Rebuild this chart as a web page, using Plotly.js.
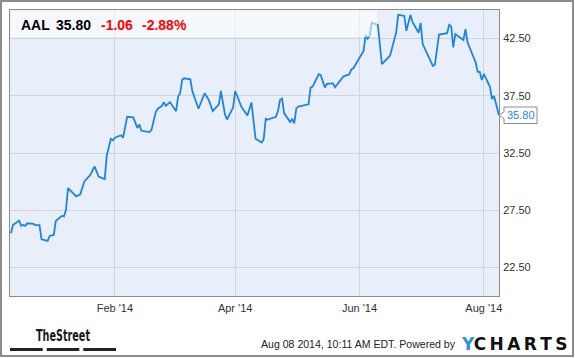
<!DOCTYPE html>
<html>
<head>
<meta charset="utf-8">
<script src="https://cdn.plot.ly/plotly-3.0.1.min.js"></script>
<style>
  html, body { margin: 0; padding: 0; background: #fff; }
  #wrap { position: relative; width: 575px; height: 358px; overflow: hidden; }
  #chart { position: absolute; left: 0; top: 0; width: 575px; height: 358px; }
  #frame { position: absolute; left: 0; top: 0; width: 574px; height: 357px; box-sizing: border-box;
           border: 2px solid #8c8c8c; pointer-events: none; }
</style>
</head>
<body>
<div id="wrap"><div id="chart"></div><div id="frame"></div></div>
<script>
// ---- data ----
const dates = [
  '2013-12-12','2013-12-13','2013-12-16','2013-12-17','2013-12-18','2013-12-19','2013-12-20','2013-12-22',
  '2013-12-23','2013-12-24','2013-12-26','2013-12-27','2013-12-30','2013-12-31','2014-01-02','2014-01-03',
  '2014-01-06','2014-01-07','2014-01-08','2014-01-09','2014-01-13','2014-01-15','2014-01-17','2014-01-20',
  '2014-01-22','2014-01-24','2014-01-27','2014-01-28','2014-01-30','2014-01-31','2014-02-01','2014-02-04',
  '2014-02-05','2014-02-07','2014-02-10','2014-02-12','2014-02-13','2014-02-14','2014-02-18','2014-02-19',
  '2014-02-21','2014-02-22','2014-02-24','2014-02-25','2014-02-26','2014-02-28','2014-03-03','2014-03-04',
  '2014-03-05','2014-03-06','2014-03-07','2014-03-10','2014-03-11','2014-03-14','2014-03-17','2014-03-19',
  '2014-03-21','2014-03-24','2014-03-25','2014-03-27','2014-03-28','2014-03-31','2014-04-01','2014-04-02',
  '2014-04-04','2014-04-07','2014-04-09','2014-04-11','2014-04-14','2014-04-15','2014-04-16','2014-04-17',
  '2014-04-21','2014-04-22','2014-04-23','2014-04-24','2014-04-25','2014-04-28','2014-04-29','2014-04-30',
  '2014-05-01','2014-05-02','2014-05-06','2014-05-07','2014-05-08','2014-05-09','2014-05-12','2014-05-13',
  '2014-05-15','2014-05-16','2014-05-19','2014-05-20','2014-05-23','2014-05-24','2014-05-27','2014-05-28',
  '2014-05-29','2014-06-01','2014-06-03','2014-06-04','2014-06-05','2014-06-06','2014-06-07','2014-06-10',
  '2014-06-12','2014-06-16','2014-06-19','2014-06-20','2014-06-23','2014-06-24','2014-06-26','2014-06-27',
  '2014-06-30','2014-07-01','2014-07-02','2014-07-07','2014-07-08','2014-07-10','2014-07-14','2014-07-15',
  '2014-07-16','2014-07-17','2014-07-18','2014-07-22','2014-07-23','2014-07-24','2014-07-28','2014-07-29',
  '2014-07-30','2014-07-31','2014-08-01','2014-08-04','2014-08-05','2014-08-06','2014-08-07','2014-08-08 10:11'
];
const prices = [
  25.48,26.21,26.59,26.13,26.21,26.13,26.36,26.28,
  26.30,26.19,26.19,24.96,24.81,25.25,25.34,26.56,
  27.00,26.96,27.53,29.44,28.70,28.89,30.02,30.60,
  31.33,30.43,30.21,32.27,33.72,33.61,33.83,34.05,
  33.83,35.67,35.61,34.69,34.99,34.44,34.33,34.55,
  36.05,36.37,36.60,36.95,36.62,36.95,36.16,37.41,
  37.72,38.90,39.03,38.94,37.89,36.37,37.72,37.16,
  36.16,36.75,37.92,35.87,35.43,36.49,37.92,37.48,
  36.55,35.78,36.92,33.74,33.41,33.70,35.49,35.43,
  35.67,36.16,37.13,37.26,35.99,35.20,35.49,35.08,
  36.40,36.55,36.66,36.75,38.22,38.30,39.38,39.30,
  38.22,38.55,38.59,38.24,38.94,39.18,39.38,39.80,
  39.91,40.85,41.43,42.81,42.49,42.75,43.89,43.69,
  40.26,41.02,43.04,44.58,44.48,43.18,44.56,43.95,
  43.01,43.86,42.02,40.11,40.22,42.85,42.98,43.71,
  43.57,41.73,42.90,42.39,43.33,42.17,40.41,39.60,
  39.59,38.88,39.41,38.29,37.21,37.48,36.86,35.80
];
const yTicks = [22.5, 27.5, 32.5, 37.5, 42.5];
const xTicks = ['2014-02-01', '2014-04-01', '2014-06-01', '2014-08-01'];
const xTickText = ["Feb '14", "Apr '14", "Jun '14", "Aug '14"];
const ticker = 'AAL';
const lastPrice = '35.80';
const change = '-1.06';
const changePct = '-2.88%';
const stamp = 'Aug 08 2014, 10:11 AM EDT. Powered by';
const brand = 'TheStreet';

// ---- layout helpers ----
const W = 575, H = 358;
const M = {l: 10, r: 76, t: 10, b: 62};
const PW = W - M.l - M.r, PH = H - M.t - M.b;
const fx = px => (px - M.l) / PW;         // pixel x -> paper x
const fy = py => (M.t + PH - py) / PH;    // pixel y -> paper y

const LINE = '#1a86e3';
const FONT = 'Liberation Sans, Arial, Helvetica, sans-serif';
const lastVal = prices[prices.length - 1];

const trace = {
  x: dates, y: prices, type: 'scatter', mode: 'lines',
  line: {color: LINE, width: 1.8}, hoverinfo: 'skip'
};

// callout box with notch, anchored at last value
const nh = 0.3, bh = 0.72, bx0 = fx(504), bx1 = fx(537);
const calloutPath = `M 1.0 ${lastVal} L ${bx0} ${lastVal + nh} L ${bx0} ${lastVal + bh} L ${bx1} ${lastVal + bh} ` +
  `L ${bx1} ${lastVal - bh} L ${bx0} ${lastVal - bh} L ${bx0} ${lastVal - nh} Z`;

const shapes = [
  {type: 'rect', xref: 'paper', yref: 'paper', x0: fx(10.5), x1: fx(377), y0: fy(37), y1: fy(10.6),
   fillcolor: 'rgba(255,255,255,0.55)', line: {width: 0}, layer: 'above'},
  {type: 'path', xref: 'paper', yref: 'y', path: calloutPath, fillcolor: '#ffffff',
   line: {color: '#8c8c8c', width: 1}, layer: 'above'},
  {type: 'rect', xref: 'paper', yref: 'paper', x0: fx(10), x1: fx(42.7), y0: fy(351), y1: fy(348),
   fillcolor: '#222', line: {width: 0}},
  {type: 'rect', xref: 'paper', yref: 'paper', x0: fx(46.7), x1: fx(79.3), y0: fy(351), y1: fy(348),
   fillcolor: '#222', line: {width: 0}},
  {type: 'rect', xref: 'paper', yref: 'paper', x0: fx(83.3), x1: fx(116), y0: fy(351), y1: fy(348),
   fillcolor: '#222', line: {width: 0}}
];

const hdr = (txt, px, color) => ({
  xref: 'paper', yref: 'paper', x: fx(px), y: fy(24.5), xanchor: 'left', yanchor: 'middle',
  text: '<b>' + txt + '</b>', showarrow: false, font: {family: FONT, size: 14, color: color}
});

const annotations = [
  hdr(ticker, 19, '#000'),
  hdr(lastPrice, 54, '#000'),
  hdr(change, 99, '#ff0000'),
  hdr(changePct, 140, '#ff0000'),
  {xref: 'paper', yref: 'y', x: fx(520.5), y: lastVal, xanchor: 'center', yanchor: 'middle',
   text: lastVal.toFixed(2), showarrow: false, font: {family: FONT, size: 11, color: LINE}},
  {xref: 'paper', yref: 'paper', x: fx(34), y: fy(335.5), xanchor: 'left', yanchor: 'middle',
   text: '<b>' + brand + '</b>', showarrow: false,
   font: {family: 'Liberation Sans Narrow, DejaVu Sans Condensed, Arial Narrow, Liberation Sans, sans-serif', size: 15, color: '#1a1a1a'}},
  {xref: 'paper', yref: 'paper', x: fx(260), y: fy(343.5), xanchor: 'left', yanchor: 'middle', borderpad: 0,
   text: stamp, showarrow: false, font: {family: FONT, size: 10.5, color: '#222'}},
  {xref: 'paper', yref: 'paper', x: fx(568), y: fy(343.5), xanchor: 'right', yanchor: 'middle', borderpad: 0,
   text: '<b><span style="color:#2b8fe3">Y</span>C\u2009H\u2009A\u2009R\u2009T\u2009S</b>', showarrow: false,
   font: {family: 'DejaVu Sans, Liberation Sans, sans-serif', size: 17, color: '#111'}}
];

const layout = {
  width: W, height: H, margin: M, showlegend: false,
  paper_bgcolor: 'rgba(0,0,0,0)', plot_bgcolor: '#e8effa',
  font: {family: FONT, size: 11, color: '#333'},
  xaxis: {
    type: 'date', range: ['2013-12-11 12:40', '2014-08-08 10:40'],
    tickvals: xTicks, ticktext: xTickText, ticks: '', ticklabelstandoff: 2,
    showgrid: true, gridcolor: '#d5d5d5', gridwidth: 1,
    showline: true, linecolor: '#8c8c8c', linewidth: 1, mirror: true,
    zeroline: false, fixedrange: true, tickfont: {family: FONT, size: 11, color: '#333'}
  },
  yaxis: {
    side: 'right', range: [20, 45], tickvals: yTicks, tickformat: '.2f', ticks: '', ticklabelstandoff: 1,
    showgrid: true, gridcolor: '#d5d5d5', gridwidth: 1,
    showline: true, linecolor: '#8c8c8c', linewidth: 1, mirror: true,
    zeroline: false, fixedrange: true, tickfont: {family: FONT, size: 11, color: '#333'}
  },
  shapes: shapes,
  annotations: annotations
};

// condensed look for the footer brand (fonts here lack narrow faces);
// keep each text's left edge where the library placed it
function condense(gd) {
  const fits = [[brand, 54], [stamp, 194]];
  gd.querySelectorAll('.annotation-text').forEach(t => {
    fits.forEach(([txt, len]) => {
      if (t.textContent === txt) {
        const bb = t.getBBox();
        t.setAttribute('text-anchor', 'start');
        t.setAttribute('x', bb.x);
        t.setAttribute('textLength', len);
        t.setAttribute('lengthAdjust', 'spacingAndGlyphs');
      }
    });
  });
}

Plotly.newPlot('chart', [trace], layout, {displayModeBar: false, staticPlot: true}).then(condense);
</script>
</body>
</html>
